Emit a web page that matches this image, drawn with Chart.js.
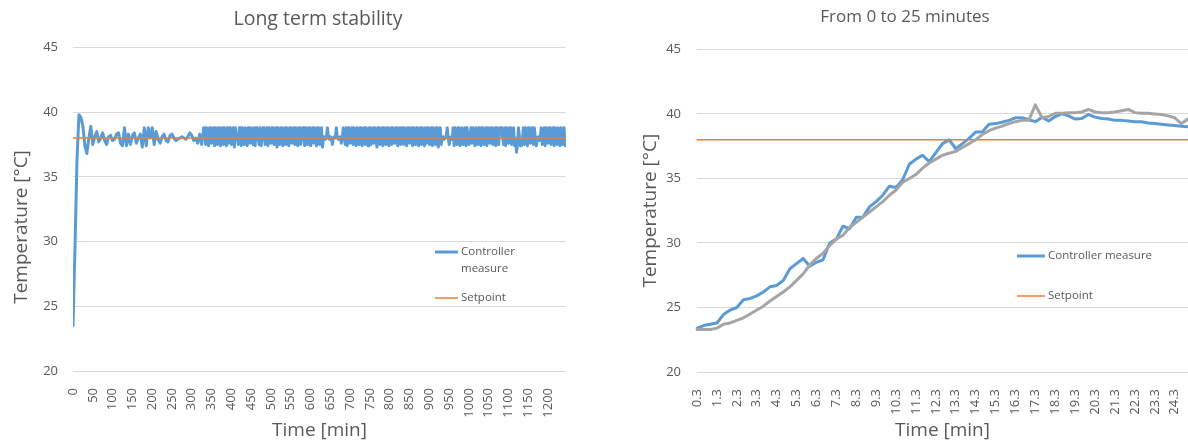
<!DOCTYPE html>
<html>
<head>
<meta charset="utf-8">
<script src="https://cdn.jsdelivr.net/npm/chart.js@4"></script>
<style>
  html, body { margin: 0; padding: 0; background: #fff; overflow: hidden; }
  #wrap { position: relative; width: 1188px; height: 444px; }
  .box { position: absolute; top: 0; height: 444px; }
  #boxLong { left: 0; width: 636px; }
  #boxShort { left: 622px; width: 566px; }
</style>
</head>
<body>
<div id="wrap">
  <div class="box" id="boxLong"><canvas id="longChart" width="636" height="444"></canvas></div>
  <div class="box" id="boxShort"><canvas id="shortChart" width="566" height="444"></canvas></div>
</div>
<script>
// setpoint temperature [°C]
const setpoint = 38;

// long run, start-up and settling: one sample every 5 min, 0 .. 330 min
const longEarlyStep = 5;
const longEarly = [
  23.5, 29.5, 36.2, 39.8, 39.6, 38.9, 37.4, 36.8, 38.0, 38.9,
  37.5, 38.1, 38.5, 37.7, 38.0, 38.4, 37.8, 37.5, 38.1, 38.2,
  37.8, 37.9, 38.3, 38.4, 37.6, 37.4, 38.8, 37.4, 38.3, 37.5,
  38.2, 38.4, 37.6, 38.0, 38.3, 37.3, 38.8, 37.4, 38.8, 38.0,
  38.8, 37.5, 38.5, 37.9, 37.6, 38.1, 38.3, 37.8, 37.7, 38.2,
  38.3, 38.0, 37.8, 37.9, 38.0, 38.1, 38.0, 37.9, 38.1, 38.4,
  38.2, 37.8, 38.0, 37.6, 38.3, 37.5, 38.8
];
// long run, steady band: one sample every 2.5 min, 332.5 .. 1245 min
const longBandStart = 332.5;
const longBandStep = 2.5;
const longBand = [
  38.8, 37.5, 38.8, 38.0, 37.4, 38.8, 38.8, 37.6, 38.0, 38.8, 37.4, 38.8, 38.0, 37.5, 38.8, 38.8, 37.4, 38.0, 38.8, 37.5,
  38.8, 38.0, 37.4, 38.8, 37.6, 38.8, 38.8, 37.5, 38.0, 38.8, 37.3, 38.8, 38.0, 38.0, 37.5, 38.8, 38.8, 37.4, 38.8, 38.0,
  37.5, 38.8, 38.0, 37.4, 38.8, 38.8, 37.6, 38.8, 38.0, 37.5, 38.8, 37.4, 38.8, 38.8, 38.0, 37.5, 38.8, 37.4, 38.0, 38.8,
  38.8, 37.5, 38.0, 38.8, 37.4, 38.8, 38.0, 37.6, 38.8, 38.8, 37.5, 38.0, 38.8, 37.3, 38.8, 38.0, 37.5, 38.8, 38.8, 37.4,
  38.0, 38.8, 37.5, 38.8, 38.0, 37.4, 38.8, 38.8, 37.6, 38.0, 38.8, 37.5, 38.8, 38.0, 37.4, 38.8, 38.8, 37.5, 38.0, 38.8,
  38.8, 37.4, 38.8, 38.0, 37.5, 38.8, 38.8, 37.4, 38.0, 38.8, 37.6, 38.8, 38.0, 37.4, 38.8, 38.8, 37.5, 38.0, 38.8, 37.3,
  38.0, 38.1, 37.9, 38.0, 38.8, 38.0, 37.9, 38.1, 38.0, 37.5, 38.0, 38.1, 38.0, 38.8, 38.0, 37.9, 38.0, 38.1, 37.6, 38.0,
  38.8, 38.0, 37.5, 38.8, 37.4, 38.8, 38.8, 37.6, 38.0, 38.8, 37.5, 38.8, 38.0, 37.4, 38.8, 38.0, 37.5, 38.8, 38.8, 37.4,
  38.0, 38.8, 37.5, 38.8, 38.0, 37.4, 38.8, 38.8, 37.5, 38.0, 38.8, 37.6, 38.8, 38.0, 37.3, 38.8, 38.8, 37.5, 38.0, 38.8,
  37.4, 38.8, 38.0, 37.5, 38.8, 38.8, 37.4, 38.0, 38.8, 37.5, 38.8, 38.0, 37.6, 38.8, 38.8, 37.4, 38.0, 38.8, 37.5, 38.8,
  38.8, 37.5, 38.8, 38.0, 37.4, 38.8, 38.8, 37.6, 38.0, 38.8, 37.4, 38.8, 38.0, 37.5, 38.8, 38.8, 37.4, 38.0, 38.8, 37.5,
  38.8, 38.0, 37.4, 38.8, 37.6, 38.8, 38.8, 37.5, 38.0, 38.8, 37.4, 38.8, 38.0, 37.5, 38.8, 38.8, 37.3, 38.0, 38.8, 37.5,
  38.0, 38.1, 37.9, 38.0, 38.1, 38.8, 38.0, 37.5, 38.0, 38.1, 37.9, 38.8, 37.4, 38.8, 38.0, 37.5, 38.8, 38.8, 37.4, 38.0,
  38.8, 37.5, 38.0, 38.8, 37.4, 38.8, 38.8, 37.5, 38.0, 38.8, 37.6, 38.8, 38.0, 37.4, 38.8, 38.0, 37.5, 38.8, 38.8, 37.4,
  38.8, 38.8, 37.5, 38.0, 38.8, 37.4, 38.8, 38.0, 37.6, 38.8, 38.8, 37.5, 38.0, 38.8, 37.4, 38.8, 38.0, 37.5, 38.8, 38.8,
  38.8, 38.0, 37.5, 38.8, 37.4, 38.8, 38.0, 37.6, 38.8, 38.8, 37.5, 38.0, 38.8, 37.4, 38.0, 36.9, 37.5, 38.8, 38.0, 37.4,
  37.4, 38.0, 38.8, 37.5, 38.8, 38.0, 37.4, 38.8, 38.8, 37.6, 38.0, 38.8, 37.5, 38.8, 38.0, 37.4, 38.0, 38.1, 37.8, 38.0,
  38.8, 37.5, 38.0, 38.8, 37.4, 38.8, 38.0, 37.6, 38.8, 38.8, 37.5, 38.0, 38.8, 37.4, 38.8, 38.0, 37.5, 38.8, 38.0, 37.4,
  38.8, 37.5, 38.0, 38.8, 37.4, 38.0
];
const longTicks = [0, 50, 100, 150, 200, 250, 300, 350, 400, 450, 500, 550, 600,
  650, 700, 750, 800, 850, 900, 950, 1000, 1050, 1100, 1150, 1200];

// first 25 minutes: one sample every 20 s
const shortTimes = [
  '0.3', '0.7', '1.0', '1.3', '1.7', '2.0', '2.3', '2.7', '3.0', '3.3', '3.7', '4.0',
  '4.3', '4.7', '5.0', '5.3', '5.7', '6.0', '6.3', '6.7', '7.0', '7.3', '7.7', '8.0',
  '8.3', '8.7', '9.0', '9.3', '9.7', '10.0', '10.3', '10.7', '11.0', '11.3', '11.7', '12.0',
  '12.3', '12.7', '13.0', '13.3', '13.7', '14.0', '14.3', '14.7', '15.0', '15.3', '15.7', '16.0',
  '16.3', '16.7', '17.0', '17.3', '17.7', '18.0', '18.3', '18.7', '19.0', '19.3', '19.7', '20.0',
  '20.3', '20.7', '21.0', '21.3', '21.7', '22.0', '22.3', '22.7', '23.0', '23.3', '23.7', '24.0',
  '24.3', '24.7', '25.0'
];
const shortMeasure = [
  23.4, 23.6, 23.7, 23.8, 24.45, 24.8, 25.0, 25.6, 25.7, 25.9,
  26.2, 26.6, 26.7, 27.1, 28.0, 28.4, 28.8, 28.2, 28.5, 28.7,
  30.0, 30.3, 31.3, 31.1, 32.0, 32.0, 32.8, 33.2, 33.7, 34.4,
  34.3, 34.9, 36.1, 36.5, 36.8, 36.3, 37.0, 37.7, 38.0, 37.3,
  37.7, 38.1, 38.6, 38.6, 39.2, 39.25, 39.35, 39.5, 39.7, 39.7,
  39.55, 39.4, 39.75, 39.45, 39.8, 40.0, 39.85, 39.6, 39.65, 39.95,
  39.75, 39.65, 39.6, 39.5, 39.5, 39.45, 39.4, 39.4, 39.3, 39.25,
  39.2, 39.15, 39.1, 39.05, 39.0
];
// second (grey) trace, not in the legend
const shortReference = [
  23.3, 23.3, 23.3, 23.4, 23.7, 23.8, 24.0, 24.2, 24.5, 24.8,
  25.1, 25.5, 25.85, 26.2, 26.6, 27.1, 27.6, 28.3, 28.8, 29.2,
  29.8, 30.3, 30.6, 31.2, 31.6, 32.0, 32.4, 32.8, 33.2, 33.7,
  34.1, 34.7, 35.0, 35.3, 35.8, 36.2, 36.5, 36.8, 36.95, 37.1,
  37.4, 37.7, 38.0, 38.4, 38.7, 38.9, 39.05, 39.25, 39.4, 39.5,
  39.5, 40.7, 39.7, 39.8, 40.05, 40.05, 40.1, 40.1, 40.15, 40.35,
  40.15, 40.1, 40.1, 40.15, 40.25, 40.35, 40.1, 40.05, 40.05, 40.0,
  39.95, 39.85, 39.7, 39.25, 39.6
];

const FONT = '"Open Sans", "Noto Sans", sans-serif';
const TEXT = '#595959';
const GRID = '#d9d9d9';
const BLUE = '#5b9bd5';
const ORANGE = '#ed7d31';
const GREY = '#a5a5a5';

// legend drawn inside the plot, like the spreadsheet one
const boxLegend = {
  id: 'boxLegend',
  afterDraw(chart, args, opts) {
    const ctx = chart.ctx;
    ctx.save();
    ctx.font = opts.size + 'px ' + FONT;
    ctx.textBaseline = 'middle';
    let row = 0;
    chart.data.datasets.forEach(ds => {
      if (ds.hideInLegend) return;
      const y = opts.rows[row++];
      ctx.strokeStyle = ds.borderColor;
      ctx.lineWidth = ds.borderWidth;
      ctx.beginPath();
      ctx.moveTo(opts.x, y);
      ctx.lineTo(opts.x + opts.swatch, y);
      ctx.stroke();
      // wrap words if the line is too long
      const words = ds.label.split(' ');
      const lines = [];
      let cur = '';
      words.forEach(w => {
        const test = cur ? cur + ' ' + w : w;
        if (cur && ctx.measureText(test).width > opts.maxWidth) {
          lines.push(cur);
          cur = w;
        } else {
          cur = test;
        }
      });
      lines.push(cur);
      ctx.fillStyle = TEXT;
      lines.forEach((ln, k) => ctx.fillText(ln, opts.x + opts.swatch + opts.gap, y + k * opts.lineHeight));
    });
    ctx.restore();
  }
};

// vertical axis title placed by hand (the left chart has it off-centre)
const sideTitle = {
  id: 'sideTitle',
  afterDraw(chart, args, opts) {
    if (!opts.text) return;
    const ctx = chart.ctx;
    ctx.save();
    ctx.translate(opts.x, opts.y);
    ctx.rotate(-Math.PI / 2);
    ctx.font = opts.size + 'px ' + FONT;
    ctx.fillStyle = TEXT;
    ctx.textAlign = 'center';
    ctx.textBaseline = 'middle';
    ctx.fillText(opts.text, 0, 0);
    ctx.restore();
  }
};

function tickFont(size) {
  return { family: FONT, size: size };
}

const longPoints = longEarly.map((v, i) => ({ x: i * longEarlyStep, y: v }))
  .concat(longBand.map((v, i) => ({ x: longBandStart + i * longBandStep, y: v })));
const longEnd = longPoints[longPoints.length - 1].x;

// Long term stability
new Chart(document.getElementById('longChart'), {
  type: 'line',
  data: {
    datasets: [
      {
        label: 'Controller measure',
        data: longPoints,
        borderColor: BLUE,
        borderWidth: 3,
        order: 2
      },
      {
        label: 'Setpoint',
        data: [{ x: 0, y: setpoint }, { x: longEnd, y: setpoint }],
        borderColor: ORANGE,
        borderWidth: 1.5,
        order: 1
      }
    ]
  },
  plugins: [boxLegend, sideTitle],
  options: {
    responsive: false,
    animation: false,
    elements: {
      point: { radius: 0 },
      line: { tension: 0, borderJoinStyle: 'round', borderCapStyle: 'round' }
    },
    layout: { padding: 0 },
    plugins: {
      legend: { display: false },
      tooltip: { enabled: false },
      title: {
        display: true,
        text: 'Long term stability',
        color: TEXT,
        font: { family: FONT, size: 19.5, weight: 'normal' },
        padding: { top: 8, bottom: 16 }
      },
      boxLegend: { x: 435, rows: [252, 298], swatch: 23, gap: 3, size: 11.5, lineHeight: 17, maxWidth: 70 },
      sideTitle: { text: 'Temperature [°C]', x: 22, y: 227, size: 19 }
    },
    scales: {
      x: {
        type: 'linear',
        min: 0,
        max: longEnd,
        grid: { display: false },
        border: { display: false },
        afterBuildTicks: s => { s.ticks = longTicks.map(v => ({ value: v })); },
        afterFit: s => { s.height = 73; },
        ticks: {
          autoSkip: false, minRotation: 90, maxRotation: 90, padding: 9,
          color: TEXT, font: tickFont(13),
          callback: v => String(v)
        },
        title: {
          display: true,
          text: 'Time [min]',
          color: TEXT,
          font: { family: FONT, size: 19 },
          padding: { top: 0, bottom: 2 }
        }
      },
      y: {
        min: 20,
        max: 45,
        grid: { color: GRID, drawTicks: false },
        border: { display: false },
        afterFit: s => { s.width = 73; },
        ticks: { stepSize: 5, padding: 15, color: TEXT, font: tickFont(13) }
      },
      // empty right-hand box so the plot stops short of the title's full width
      spacer: {
        type: 'linear',
        position: 'right',
        display: true,
        grid: { display: false },
        border: { display: false },
        ticks: { display: false },
        afterFit: s => { s.width = 70; }
      }
    }
  }
});

// From 0 to 25 minutes
new Chart(document.getElementById('shortChart'), {
  type: 'line',
  data: {
    labels: shortTimes,
    datasets: [
      {
        label: 'Controller measure',
        data: shortMeasure,
        borderColor: BLUE,
        borderWidth: 3,
        order: 2
      },
      {
        label: 'Setpoint',
        data: shortTimes.map(() => setpoint),
        borderColor: ORANGE,
        borderWidth: 1.5,
        order: 1
      },
      {
        label: 'Reference',
        data: shortReference,
        borderColor: GREY,
        borderWidth: 3,
        order: 0,
        hideInLegend: true
      }
    ]
  },
  plugins: [boxLegend],
  options: {
    responsive: false,
    animation: false,
    elements: {
      point: { radius: 0 },
      line: { tension: 0, borderJoinStyle: 'round', borderCapStyle: 'round' }
    },
    layout: { padding: 0 },
    plugins: {
      legend: { display: false },
      tooltip: { enabled: false },
      title: {
        display: true,
        text: 'From 0 to 25 minutes',
        color: TEXT,
        font: { family: FONT, size: 17, weight: 'normal' },
        padding: { top: 7, bottom: 22 }
      },
      boxLegend: { x: 395, rows: [256, 296], swatch: 28, gap: 3, size: 11.5, lineHeight: 17, maxWidth: 200 }
    },
    scales: {
      x: {
        type: 'category',
        offset: false,
        grid: { display: false },
        border: { display: false },
        afterFit: s => { s.height = 72; s.paddingRight = 0; },
        ticks: {
          autoSkip: false,
          minRotation: 90,
          maxRotation: 90,
          padding: 9,
          color: TEXT,
          font: tickFont(13),
          callback: function (v) {
            const lab = this.getLabelForValue(v);
            return lab.endsWith('.3') ? lab : null;
          }
        },
        title: {
          display: true,
          text: 'Time [min]',
          color: TEXT,
          font: { family: FONT, size: 19 },
          padding: { top: 0, bottom: 2 }
        }
      },
      y: {
        min: 20,
        max: 45,
        grid: { color: GRID, drawTicks: false },
        border: { display: false },
        afterFit: s => { s.width = 75; },
        ticks: { stepSize: 5, padding: 16, color: TEXT, font: tickFont(13) },
        title: {
          display: true,
          text: 'Temperature [°C]',
          color: TEXT,
          font: { family: FONT, size: 19 },
          padding: { top: 17, bottom: 0 }
        }
      }
    }
  }
});
</script>
</body>
</html>
